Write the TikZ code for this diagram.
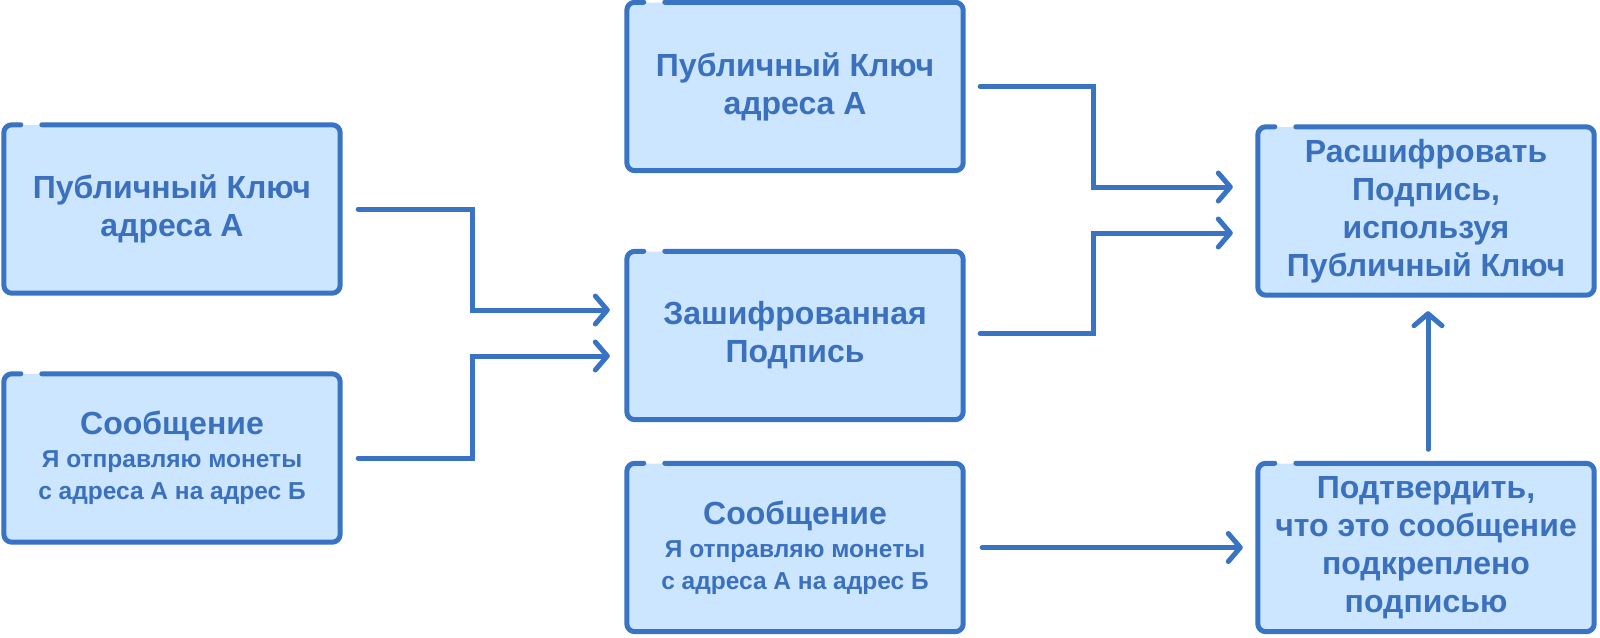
\documentclass[tikz,border=0pt]{standalone}
\usepackage{fontspec}
\setmainfont{Liberation Sans}
\usetikzlibrary{arrows.meta}
\definecolor{bordc}{HTML}{3873C4}
\definecolor{fillc}{HTML}{CDE6FF}
\definecolor{textc}{HTML}{3A70BE}
\tikzset{
  boxnode/.style={rectangle, rounded corners=8pt, fill=fillc, minimum width=336pt,
    minimum height=168pt, inner sep=0pt, align=center, text=textc,
    font=\fontsize{32}{38}\selectfont\bfseries},
  gapborder/.style={draw=bordc, line width=5pt, rounded corners=8pt, line cap=round, line join=round},
  conn/.style={draw=bordc, line width=5pt, line cap=round, line join=miter,
    -{Straight Barb[length=12pt,width=28pt,line cap=round,line join=round]}}
}
\newcommand\smalltxt{\fontsize{24.5}{30}\selectfont}
\newcommand\drawgap[1]{%
  \draw[gapborder] ([xshift=38pt]#1.north west) -- (#1.north east) -- (#1.south east)
    -- (#1.south west) -- (#1.north west) -- ([xshift=17pt]#1.north west);}
\begin{document}
\begin{tikzpicture}[x=1pt,y=-1pt]
\useasboundingbox[fill=white] (0,0) rectangle (1600,637);
\node[boxnode] (A) at (172,209) {Публичный Ключ\\адреса А};
\node[boxnode] (B) at (172,458) {Сообщение\\[-5pt]{\smalltxt Я отправляю монеты}\\[-6pt]{\smalltxt с адреса А на адрес Б}};
\node[boxnode] (C) at (795,86.5) {Публичный Ключ\\адреса А};
\node[boxnode] (D) at (795,335.5) {Зашифрованная\\Подпись};
\node[boxnode] (E) at (795,547.5) {Сообщение\\[-5pt]{\smalltxt Я отправляю монеты}\\[-6pt]{\smalltxt с адреса А на адрес Б}};
\node[boxnode] (F) at (1426,211) {Расшифровать\\Подпись,\\используя\\Публичный Ключ};
\node[boxnode] (G) at (1426,547.5) {Подтвердить,\\что это сообщение\\подкреплено\\подписью};
\foreach \n in {A,B,C,D,E,F,G}{\drawgap{\n}}
\draw[conn] ([xshift=18pt]A.east) -| (472,310) -- ([xshift=-17pt]D.west |- 0,310);
\draw[conn] ([xshift=18pt]B.east) -| (472,356) -- ([xshift=-17pt]D.west |- 0,356);
\draw[conn] ([xshift=17pt]C.east) -| (1093,187) -- ([xshift=-25pt]F.west |- 0,187);
\draw[conn] ([xshift=17pt,yshift=2pt]D.east) -| (1093,233) -- ([xshift=-25pt]F.west |- 0,233);
\draw[conn] ([xshift=19pt]E.east) -- ([xshift=-15pt]G.west);
\draw[conn] ([xshift=2pt,yshift=14pt]G.north) -- ([xshift=2pt,yshift=-16pt]F.south);
\end{tikzpicture}
\end{document}
